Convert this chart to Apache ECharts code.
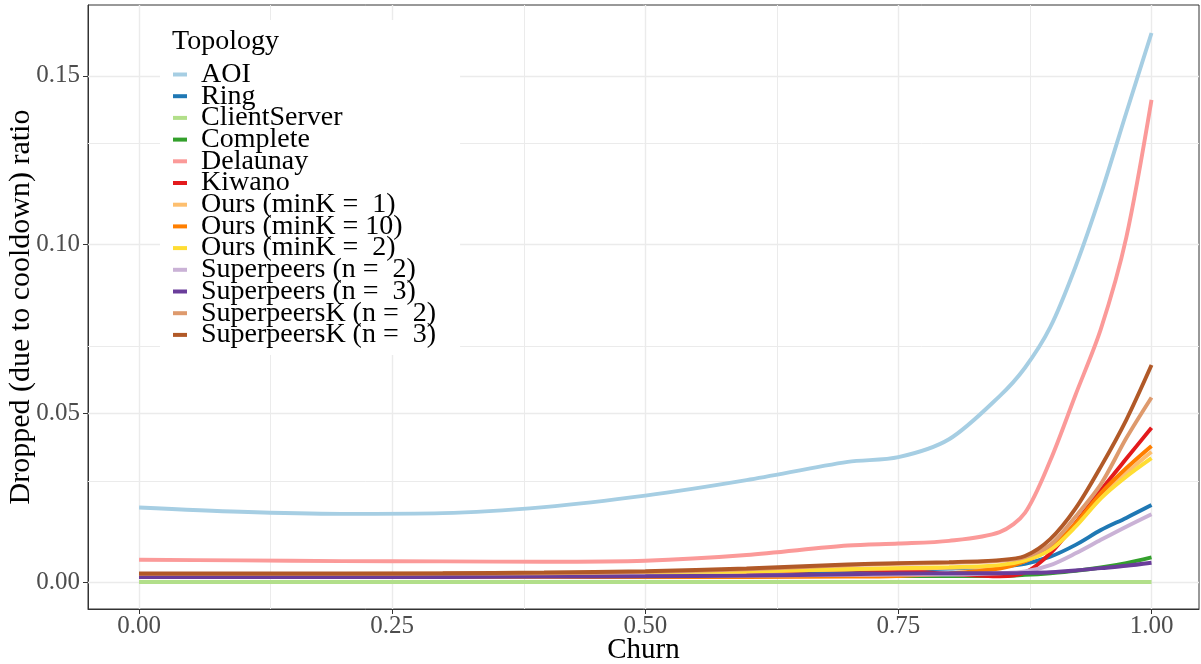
<!DOCTYPE html>
<html>
<head>
<meta charset="utf-8">
<title>Dropped ratio vs churn</title>
<script src="https://cdn.jsdelivr.net/npm/echarts@6/dist/echarts.min.js"></script>
<style>
  html, body { margin: 0; padding: 0; background: #ffffff; }
  #chart { width: 1201px; height: 664px; }
</style>
</head>
<body>
<div id="chart"></div>
<script>
// Churn levels (x) at which each topology's smoothed curve is sampled
const churn = [0, 0.1, 0.2, 0.3, 0.4, 0.5, 0.6, 0.7, 0.75, 0.8, 0.85, 0.875, 0.9, 0.925, 0.95, 0.975, 1.0];

// Dropped (due to cooldown) ratio per topology
const aoi          = [0.0221, 0.0208, 0.0202, 0.0204, 0.0222, 0.0256, 0.0302, 0.0356, 0.0370, 0.0423, 0.0551, 0.0635, 0.0755, 0.0935, 0.1150, 0.1390, 0.1627];
const ring         = [0.0018, 0.0018, 0.0018, 0.0019, 0.0020, 0.0022, 0.0026, 0.0032, 0.0036, 0.0040, 0.0046, 0.0054, 0.0075, 0.0110, 0.0154, 0.0190, 0.0228];
const clientServer = [0, 0, 0, 0, 0, 0, 0, 0, 0, 0, 0, 0, 0, 0, 0, 0, 0];
const complete     = [0.0016, 0.0016, 0.0016, 0.0016, 0.0016, 0.0016, 0.0017, 0.0018, 0.0018, 0.0018, 0.0018, 0.0021, 0.0026, 0.0033, 0.0043, 0.0056, 0.0073];
const delaunay     = [0.0066, 0.0064, 0.0062, 0.0061, 0.0060, 0.0063, 0.0080, 0.0108, 0.0114, 0.0122, 0.0148, 0.0205, 0.0360, 0.0555, 0.0750, 0.1020, 0.1429];
const kiwano       = [0.0018, 0.0018, 0.0018, 0.0018, 0.0019, 0.0021, 0.0028, 0.0037, 0.0034, 0.0024, 0.0017, 0.0028, 0.0085, 0.0175, 0.0272, 0.0365, 0.0457];
const oursMinK1    = [0.0020, 0.0020, 0.0020, 0.0021, 0.0022, 0.0025, 0.0031, 0.0038, 0.0040, 0.0042, 0.0047, 0.0062, 0.0097, 0.0168, 0.0250, 0.0322, 0.0386];
const oursMinK10   = [0.0015, 0.0015, 0.0015, 0.0015, 0.0015, 0.0015, 0.0015, 0.0016, 0.0018, 0.0025, 0.0040, 0.0062, 0.0100, 0.0174, 0.0263, 0.0337, 0.0403];
const oursMinK2    = [0.0021, 0.0021, 0.0021, 0.0022, 0.0023, 0.0026, 0.0031, 0.0038, 0.0041, 0.0044, 0.0050, 0.0064, 0.0095, 0.0164, 0.0248, 0.0312, 0.0367];
const superpeers2  = [0.0017, 0.0017, 0.0017, 0.0017, 0.0017, 0.0018, 0.0019, 0.0021, 0.0022, 0.0022, 0.0026, 0.0031, 0.0050, 0.0085, 0.0125, 0.0164, 0.0201];
const superpeers3  = [0.0015, 0.0015, 0.0015, 0.0015, 0.0016, 0.0017, 0.0019, 0.0023, 0.0025, 0.0026, 0.0026, 0.0027, 0.0029, 0.0034, 0.0041, 0.0048, 0.0057];
const superpeersK2 = [0.0024, 0.0024, 0.0024, 0.0025, 0.0026, 0.0030, 0.0038, 0.0050, 0.0054, 0.0057, 0.0063, 0.0074, 0.0110, 0.0194, 0.0290, 0.0426, 0.0547];
const superpeersK3 = [0.0025, 0.0025, 0.0025, 0.0026, 0.0028, 0.0032, 0.0040, 0.0052, 0.0056, 0.0059, 0.0065, 0.0077, 0.0127, 0.0218, 0.0342, 0.0480, 0.0643];

// Legend names (in drawing order) and their colours
const topologyNames = [
  'AOI', 'Ring', 'ClientServer', 'Complete', 'Delaunay', 'Kiwano',
  'Ours (minK =  1)', 'Ours (minK = 10)', 'Ours (minK =  2)',
  'Superpeers (n =  2)', 'Superpeers (n =  3)',
  'SuperpeersK (n =  2)', 'SuperpeersK (n =  3)'
];
const topologyValues = [
  aoi, ring, clientServer, complete, delaunay, kiwano,
  oursMinK1, oursMinK10, oursMinK2,
  superpeers2, superpeers3, superpeersK2, superpeersK3
];
const topologyColors = [
  '#A6CEE3', '#1F78B4', '#B2DF8A', '#33A02C', '#FB9A99', '#E31A1C',
  '#FDBF6F', '#FF7F00', '#FFDD33', '#CAB2D6', '#6A3D9A', '#DE9A6D', '#B15928'
];

// Axis ticks and grid lines
const xMajor = [0, 0.25, 0.5, 0.75, 1.0];
const xMinor = [0.125, 0.375, 0.625, 0.875];
const yMajor = [0, 0.05, 0.10, 0.15];
const yMinor = [0.025, 0.075, 0.125];

const serif = '"Liberation Serif", "DejaVu Serif", serif';

const chart = echarts.init(document.getElementById('chart'), null, { renderer: 'canvas' });

// Background grid drawn as mark lines beneath the curves and the legend
function gridLineSeries(xs, ys, width) {
  return {
    type: 'line',
    data: [],
    z: 1,
    silent: true,
    animation: false,
    markLine: {
      z: 1,
      silent: true,
      animation: false,
      symbol: ['none', 'none'],
      label: { show: false },
      emphasis: { disabled: true },
      lineStyle: { color: '#EBEBEB', width: width, type: 'solid' },
      data: xs.map(v => ({ xAxis: v })).concat(ys.map(v => ({ yAxis: v })))
    }
  };
}

const curveSeries = topologyNames.map((name, i) => ({
  name: name,
  type: 'line',
  data: churn.map((c, j) => [c, topologyValues[i][j]]),
  color: topologyColors[i],
  smooth: 0.3,
  showSymbol: false,
  symbol: 'none',
  z: 3,
  lineStyle: { width: 3.9, color: topologyColors[i], cap: 'butt' },
  emphasis: { disabled: true }
}));

const option = {
  backgroundColor: '#ffffff',
  animation: false,
  title: {
    text: 'Topology',
    left: 167,
    top: 23,
    textStyle: { fontFamily: serif, fontSize: 28, fontWeight: 'normal', color: '#000000' }
  },
  legend: {
    data: topologyNames,
    orient: 'vertical',
    left: 160,
    top: 20,
    padding: [40.5, 24, 6, 13],
    backgroundColor: '#ffffff',
    itemGap: -6.3,
    itemWidth: 14,
    itemHeight: 4,
    icon: 'rect',
    selectedMode: false,
    textStyle: {
      fontFamily: serif,
      fontSize: 28,
      color: '#000000',
      padding: [0, 0, 0, 9]
    }
  },
  grid: {
    left: 88,
    top: 5,
    width: 1111,
    height: 604,
    outerBoundsMode: 'none',
    containLabel: false,
    show: true,
    borderColor: '#333333',
    borderWidth: 1,
    backgroundColor: 'transparent'
  },
  xAxis: {
    type: 'value',
    min: -0.0504,
    max: 1.0469,
    name: 'Churn',
    nameLocation: 'middle',
    nameGap: 27,
    nameMoveOverlap: false,
    nameTextStyle: { fontFamily: serif, fontSize: 29, color: '#000000' },
    axisLine: { show: true, onZero: false, lineStyle: { color: '#333333', width: 1 } },
    axisTick: { show: true, customValues: xMajor, length: 5, lineStyle: { color: '#333333', width: 1 } },
    axisLabel: {
      customValues: xMajor,
      formatter: v => v.toFixed(2),
      fontFamily: serif,
      fontSize: 25,
      color: '#4D4D4D',
      margin: 5
    },
    splitLine: { show: false }
  },
  yAxis: {
    type: 'value',
    min: -0.008,
    max: 0.171,
    name: 'Dropped (due to cooldown) ratio',
    nameLocation: 'middle',
    nameGap: 52,
    nameMoveOverlap: false,
    nameTextStyle: { fontFamily: serif, fontSize: 30, color: '#000000' },
    axisLine: { show: true, onZero: false, lineStyle: { color: '#333333', width: 1 } },
    axisTick: { show: true, customValues: yMajor, length: 5, lineStyle: { color: '#333333', width: 1 } },
    axisLabel: {
      customValues: yMajor,
      formatter: v => v.toFixed(2),
      fontFamily: serif,
      fontSize: 25,
      color: '#4D4D4D',
      margin: 8
    },
    splitLine: { show: false }
  },
  series: [
    gridLineSeries(xMinor, yMinor, 1.0),
    gridLineSeries(xMajor, yMajor, 1.4)
  ].concat(curveSeries)
};

chart.setOption(option);
</script>
</body>
</html>
